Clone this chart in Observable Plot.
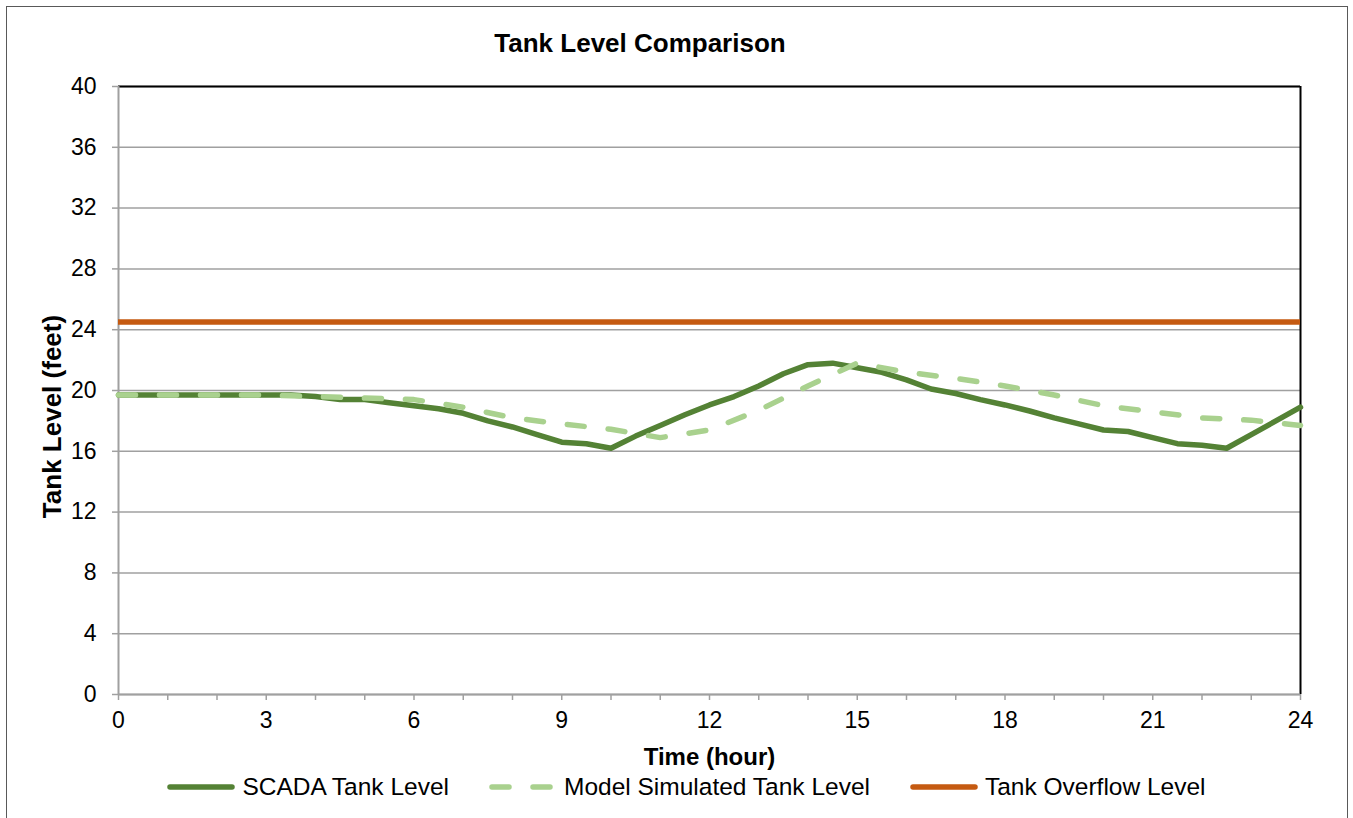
<!DOCTYPE html>
<html><head><meta charset="utf-8">
<script src="https://cdn.jsdelivr.net/npm/d3@7"></script>
<script src="https://cdn.jsdelivr.net/npm/@observablehq/plot@0.6"></script>
<style>
body{margin:0;background:#fff;overflow:hidden;font-family:"Liberation Sans",Arial,sans-serif;}
#wrap{position:relative;width:1353px;height:818px;overflow:hidden;}
#border{position:absolute;left:6px;top:6px;width:1342px;height:840px;border:1.5px solid #595959;box-sizing:border-box;}
#title{position:absolute;top:28px;left:0;width:1280px;text-align:center;font-weight:bold;font-size:26px;line-height:30px;color:#000;}
#chart{position:absolute;top:70px;left:0;}
#legend{position:absolute;top:772px;left:0;width:1353px;padding-left:20px;box-sizing:border-box;display:flex;justify-content:center;align-items:center;font-size:24.5px;line-height:30px;color:#000;}
.item{display:flex;align-items:center;margin:0 20px;}
.item svg{margin-right:7px;}
</style>
</head><body>
<div id="wrap">
<div id="border"></div>
<div id="title">Tank Level Comparison</div>
<div id="chart"></div>
<div id="legend"></div>
</div>
<script>
// SCADA tank level (feet), half-hourly
const scadaHours = [0,0.5,1,1.5,2,2.5,3,3.5,4,4.5,5,5.5,6,6.5,7,7.5,8,8.5,9,9.5,10,10.5,11,11.5,12,12.5,13,13.5,14,14.5,15,15.5,16,16.5,17,17.5,18,18.5,19,19.5,20,20.5,21,21.5,22,22.5,23,23.5,24];
const scadaLevels = [19.7,19.7,19.7,19.7,19.7,19.7,19.7,19.7,19.6,19.4,19.4,19.2,19.0,18.8,18.5,18.0,17.6,17.1,16.6,16.5,16.2,17.0,17.7,18.4,19.05,19.6,20.3,21.1,21.7,21.8,21.5,21.2,20.7,20.1,19.8,19.4,19.05,18.65,18.2,17.8,17.4,17.3,16.9,16.5,16.4,16.2,17.1,18.0,18.9];
// Model simulated tank level (feet), hourly
const modelHours = [0,1,2,3,4,5,6,7,8,9,10,11,12,13,14,15,16,17,18,19,20,21,22,23,24];
const modelLevels = [19.7,19.7,19.7,19.7,19.6,19.5,19.4,18.9,18.2,17.8,17.45,16.9,17.4,18.7,20.3,21.8,21.2,20.8,20.3,19.7,19.0,18.6,18.2,18.05,17.7];
// Tank overflow level (feet)
const overflowLevel = 24.5;
const yTicks = [0,4,8,12,16,20,24,28,32,36,40];
const xTicks = [0,1,2,3,4,5,6,7,8,9,10,11,12,13,14,15,16,17,18,19,20,21,22,23,24];
const xLabelTicks = [0,3,6,9,12,15,18,21,24];
const seriesNames = ["SCADA Tank Level","Model Simulated Tank Level","Tank Overflow Level"];
const colors = {scada:"#548235", model:"#A9D18E", overflow:"#C55A11"};

const scada = scadaHours.map((h,i)=>({h, v:scadaLevels[i]}));
const model = modelHours.map((h,i)=>({h, v:modelLevels[i]}));

const chart = Plot.plot({
  width:1353, height:700,
  marginLeft:118, marginRight:53, marginTop:16, marginBottom:76,
  style:{fontFamily:"'Liberation Sans', Arial, sans-serif", fontSize:"23px", color:"#000", background:"transparent", overflow:"visible"},
  x:{domain:[0,24]},
  y:{domain:[0,40]},
  marks:[
    Plot.gridY(yTicks,{stroke:"#a0a0a0", strokeOpacity:1, strokeWidth:1.5}),
    Plot.ruleY([40],{stroke:"#000", strokeWidth:2}),
    Plot.ruleX([24],{stroke:"#000", strokeWidth:2}),
    Plot.axisY(yTicks,{tickSize:6, tickPadding:16, stroke:"#a0a0a0", strokeWidth:1.5, label:null, fill:"#000"}),
    Plot.axisX(xTicks,{tickSize:6, tickPadding:11, stroke:"#a0a0a0", strokeWidth:1.5, label:null, fill:"#000",
      tickFormat:d => xLabelTicks.includes(d) ? String(d) : ""}),
    Plot.ruleX([0],{stroke:"#a0a0a0", strokeWidth:2}),
    Plot.ruleY([0],{stroke:"#a0a0a0", strokeWidth:2}),
    Plot.ruleY([overflowLevel],{x1:0, x2:24, stroke:colors.overflow, strokeWidth:5.5}),
    Plot.line(scada,{x:"h", y:"v", stroke:colors.scada, strokeWidth:5.5, strokeLinejoin:"round"}),
    Plot.line(model,{x:"h", y:"v", stroke:colors.model, strokeWidth:5.5, strokeDasharray:"17,24", strokeLinecap:"round", strokeLinejoin:"round"}),
    Plot.text(["Time (hour)"],{frameAnchor:"bottom", lineAnchor:"middle", dy:63, fontWeight:"bold", fontSize:24, fill:"#000"}),
    Plot.text(["Tank Level (feet)"],{frameAnchor:"left", textAnchor:"middle", lineAnchor:"middle", dx:-66, dy:26, rotate:-90, fontWeight:"bold", fontSize:26, fill:"#000"})
  ]
});
document.getElementById("chart").appendChild(chart);

// legend
const legend = document.getElementById("legend");
const swatches = [
  `<svg width="68" height="10"><line x1="3" y1="5" x2="65" y2="5" stroke="${colors.scada}" stroke-width="5.5" stroke-linecap="round"/></svg>`,
  `<svg width="68" height="10"><line x1="3" y1="5" x2="65" y2="5" stroke="${colors.model}" stroke-width="5.5" stroke-linecap="round" stroke-dasharray="17,24"/></svg>`,
  `<svg width="68" height="10"><line x1="3" y1="5" x2="65" y2="5" stroke="${colors.overflow}" stroke-width="5.5" stroke-linecap="round"/></svg>`
];
seriesNames.forEach((name,i)=>{
  const d = document.createElement("div");
  d.className = "item";
  d.innerHTML = swatches[i] + `<span>${name}</span>`;
  legend.appendChild(d);
});
</script>
</body></html>
